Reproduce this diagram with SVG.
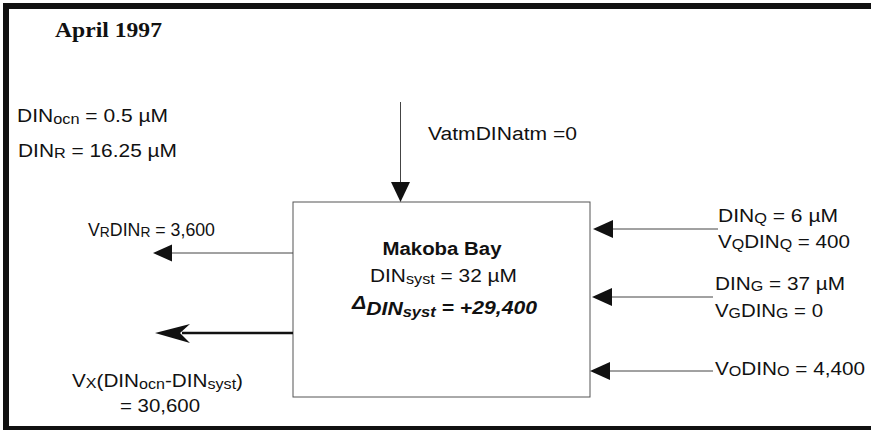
<svg xmlns="http://www.w3.org/2000/svg" width="871" height="430" viewBox="0 0 871 430">
<style>
.t{font-family:"Liberation Sans",Arial,sans-serif;font-size:18px;fill:#111}
.s{font-size:14px}
.b{font-weight:bold}
.bi{font-weight:bold;font-style:italic}
.title{font-family:"Liberation Serif","Times New Roman",serif;font-size:22px;font-weight:bold;fill:#111}
.ln{stroke:#444;stroke-width:1;fill:none}
.thick{stroke:#111;stroke-width:2.5;fill:none}
.hd{fill:#111}
.frame{fill:#111}
</style>
<rect width="871" height="430" fill="#fff"/>
<g id="frame">
<rect class="frame" x="3" y="3" width="868" height="6"/>
<rect class="frame" x="3" y="3" width="6" height="427"/>
<rect class="frame" x="3" y="426" width="868" height="4"/>
</g>
<g id="title"><text class="title" x="55" y="37" textLength="107" lengthAdjust="spacingAndGlyphs">April 1997</text></g>
<g id="params">
<text class="t" x="17" y="122" textLength="151" lengthAdjust="spacingAndGlyphs">DIN<tspan class="s" dy="2">ocn</tspan><tspan dy="-2"> = 0.5 µM</tspan></text>
<text class="t" x="18" y="157" textLength="159" lengthAdjust="spacingAndGlyphs">DIN<tspan class="s" dy="1">R</tspan><tspan dy="-1"> = 16.25 µM</tspan></text>
</g>
<g id="box">
<rect x="293" y="202" width="297" height="195" fill="none" stroke="#555" stroke-width="1"/>
<text class="t b" x="442" y="255" text-anchor="middle" textLength="119" lengthAdjust="spacingAndGlyphs">Makoba Bay</text>
<text class="t" x="370" y="282" textLength="147" lengthAdjust="spacingAndGlyphs">DIN<tspan class="s" dy="2">syst</tspan><tspan dy="-2"> = 32 µM</tspan></text>
<text class="t bi" x="352" y="309" textLength="185" lengthAdjust="spacingAndGlyphs" font-size="20">Δ<tspan dy="6">DIN</tspan><tspan class="s" dy="2" font-size="16">syst</tspan><tspan dy="-3"> = +29,400</tspan></text>
</g>
<g id="connectors">
<line class="ln" x1="400.5" y1="102" x2="400.5" y2="184"/>
<polygon class="hd" points="391,182 410,182 400.5,202"/>
<line class="ln" x1="293" y1="253" x2="172" y2="253"/>
<polygon class="hd" points="153,253 172,244.5 172,261.5"/>
<line class="thick" x1="293" y1="333" x2="182" y2="333"/>
<polygon class="hd" points="155,333 190,324 180,333 190,343"/>
<line class="ln" x1="613" y1="229" x2="718" y2="229"/>
<polygon class="hd" points="593,229 613,220 613,238"/>
<line class="ln" x1="612" y1="297" x2="713" y2="297"/>
<polygon class="hd" points="592,297 612,288 612,306"/>
<line class="ln" x1="610" y1="371" x2="713" y2="371"/>
<polygon class="hd" points="590,371 610,362 610,380"/>
</g>
<g id="labels">
<text class="t" x="428" y="140" textLength="149" lengthAdjust="spacingAndGlyphs">VatmDINatm =0</text>
<text class="t" x="88" y="236" textLength="127" lengthAdjust="spacingAndGlyphs">V<tspan class="s" dy="1">R</tspan><tspan dy="-1">DIN</tspan><tspan class="s" dy="1">R</tspan><tspan dy="-1"> = 3,600</tspan></text>
<text class="t" x="72" y="387" textLength="171" lengthAdjust="spacingAndGlyphs">V<tspan class="s" dy="1">X</tspan><tspan dy="-1">(DIN</tspan><tspan class="s" dy="2">ocn</tspan><tspan dy="-2">-DIN</tspan><tspan class="s" dy="2">syst</tspan><tspan dy="-2">)</tspan></text>
<text class="t" x="120" y="412" textLength="80" lengthAdjust="spacingAndGlyphs">= 30,600</text>
<text class="t" x="718" y="222" textLength="120" lengthAdjust="spacingAndGlyphs">DIN<tspan class="s" dy="1">Q</tspan><tspan dy="-1"> = 6 µM</tspan></text>
<text class="t" x="718" y="248" textLength="132" lengthAdjust="spacingAndGlyphs">V<tspan class="s" dy="1">Q</tspan><tspan dy="-1">DIN</tspan><tspan class="s" dy="1">Q</tspan><tspan dy="-1"> = 400</tspan></text>
<text class="t" x="715" y="290" textLength="130" lengthAdjust="spacingAndGlyphs">DIN<tspan class="s" dy="1">G</tspan><tspan dy="-1"> = 37 µM</tspan></text>
<text class="t" x="715" y="317" textLength="108" lengthAdjust="spacingAndGlyphs">V<tspan class="s" dy="1">G</tspan><tspan dy="-1">DIN</tspan><tspan class="s" dy="1">G</tspan><tspan dy="-1"> = 0</tspan></text>
<text class="t" x="715" y="375" textLength="150" lengthAdjust="spacingAndGlyphs">V<tspan class="s" dy="1">O</tspan><tspan dy="-1">DIN</tspan><tspan class="s" dy="1">O</tspan><tspan dy="-1"> = 4,400</tspan></text>
</g>
</svg>
